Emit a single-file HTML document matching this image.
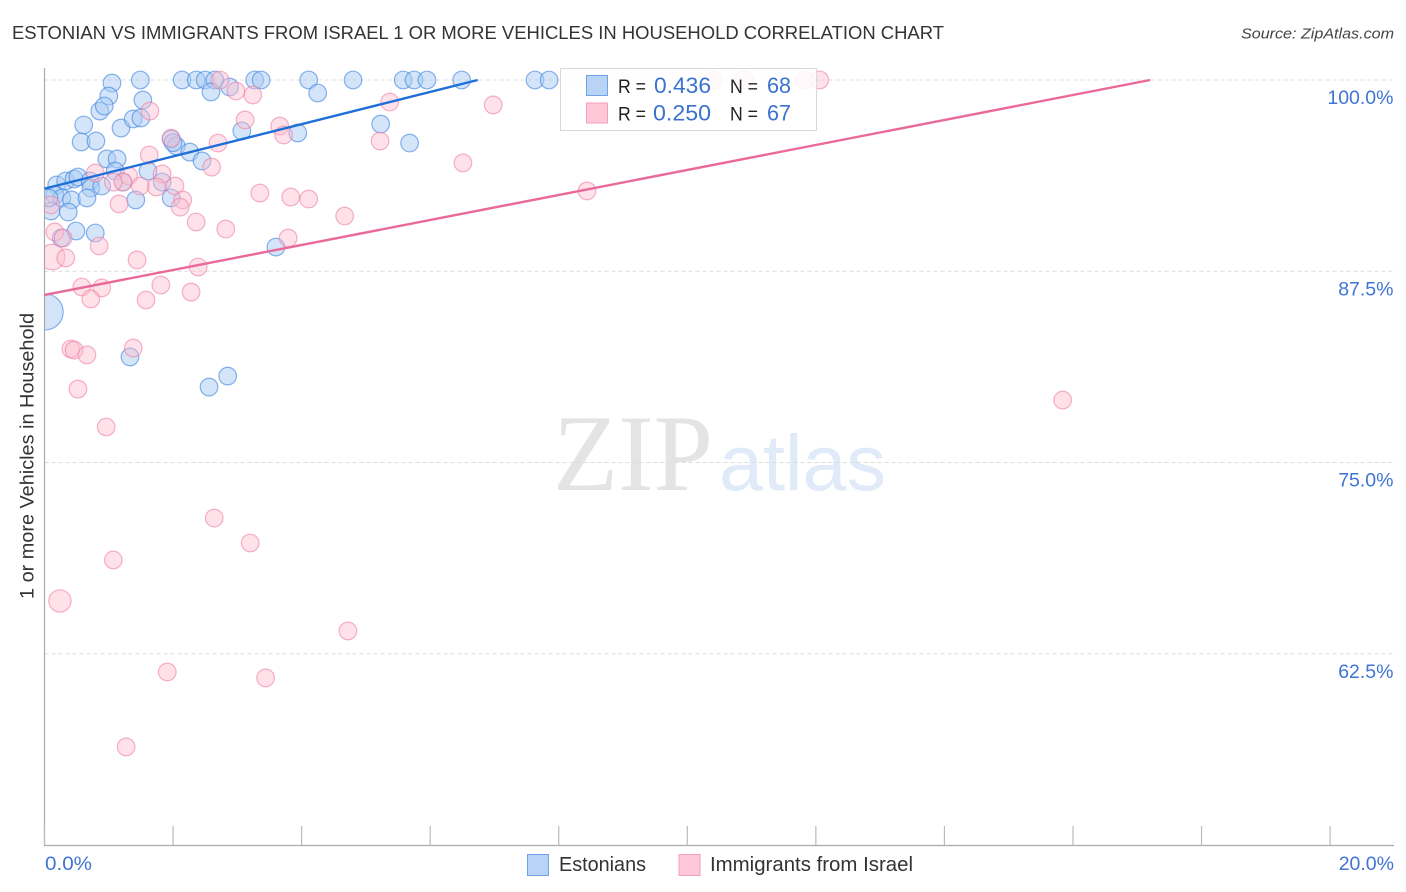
<!DOCTYPE html>
<html>
<head>
<meta charset="utf-8">
<title>Estonian vs Immigrants from Israel correlation chart</title>
<style>
html,body{margin:0;padding:0;background:#fff;}
svg{display:block;font-family:"Liberation Sans",Arial,sans-serif;}
</style>
</head>
<body>
<svg id="chart" width="1406" height="892" viewBox="0 0 1406 892" xmlns="http://www.w3.org/2000/svg">
  <defs>
    <clipPath id="plot-clip"><rect x="45" y="60" width="1349" height="785"/></clipPath>
  </defs>
  <rect x="0" y="0" width="1406" height="892" fill="#ffffff"/>
  <text x="12" y="39" font-size="18.5" fill="#333" textLength="932" lengthAdjust="spacingAndGlyphs">ESTONIAN VS IMMIGRANTS FROM ISRAEL 1 OR MORE VEHICLES IN HOUSEHOLD CORRELATION CHART</text>
  <text x="1241" y="38.5" font-size="15" font-style="italic" fill="#444" textLength="153" lengthAdjust="spacingAndGlyphs">Source: ZipAtlas.com</text>
  <text x="553" y="490" font-family="'Liberation Serif',serif" font-size="109" fill="#e4e4e4" textLength="160" lengthAdjust="spacingAndGlyphs">ZIP</text>
  <text x="719" y="490" font-size="79" fill="#e0eaf8" textLength="167" lengthAdjust="spacingAndGlyphs">atlas</text>
  <g id="grid"></g>
  <g id="blue-points" clip-path="url(#plot-clip)"></g>
  <g id="pink-points" clip-path="url(#plot-clip)"></g>
  <g id="axes"></g>
  <g id="trends"></g>
  <g>
    <rect x="560.5" y="68.5" width="256" height="62" fill="#ffffff" fill-opacity="0.86" stroke="#d8d8d8" stroke-width="1"/>
    <rect x="586.5" y="75.5" width="21" height="20" fill="#b8d3f6" stroke="#6ea3e6" stroke-width="1"/>
    <rect x="586.5" y="103" width="21" height="20" fill="#ffc8d9" stroke="#f3a0bc" stroke-width="1"/>
    <text x="618" y="93" font-size="19.5" fill="#222" textLength="28" lengthAdjust="spacingAndGlyphs">R =</text>
    <text x="654" y="93" font-size="22" fill="#3a72d0" textLength="57" lengthAdjust="spacingAndGlyphs">0.436</text>
    <text x="730" y="93" font-size="19.5" fill="#222" textLength="28" lengthAdjust="spacingAndGlyphs">N =</text>
    <text x="767" y="93" font-size="22" fill="#3a72d0" textLength="24" lengthAdjust="spacingAndGlyphs">68</text>
    <text x="618" y="120.5" font-size="19.5" fill="#222" textLength="28" lengthAdjust="spacingAndGlyphs">R =</text>
    <text x="653" y="120.5" font-size="22" fill="#3a72d0" textLength="58" lengthAdjust="spacingAndGlyphs">0.250</text>
    <text x="730" y="120.5" font-size="19.5" fill="#222" textLength="28" lengthAdjust="spacingAndGlyphs">N =</text>
    <text x="767" y="120.5" font-size="22" fill="#3a72d0" textLength="24" lengthAdjust="spacingAndGlyphs">67</text>
  </g>
  <text transform="translate(33.5,599) rotate(-90)" font-size="19.5" fill="#333" textLength="286" lengthAdjust="spacingAndGlyphs">1 or more Vehicles in Household</text>
  <rect x="527.5" y="854.5" width="21" height="21" fill="#b8d3f6" stroke="#6ea3e6" stroke-width="1"/>
  <text x="559" y="871" font-size="20" fill="#333" textLength="87" lengthAdjust="spacingAndGlyphs">Estonians</text>
  <rect x="679" y="854.5" width="21" height="21" fill="#ffc8d9" stroke="#f3a0bc" stroke-width="1"/>
  <text x="710" y="871" font-size="20" fill="#333" textLength="203" lengthAdjust="spacingAndGlyphs">Immigrants from Israel</text>
</svg>
<script>
const xTickValues = [0,2,4,6,8,10,12,14,16,18,20];
const xEndLabels = ["0.0%","20.0%"];
const yTickValues = [100,87.5,75,62.5];
const yTickLabels = ["100.0%","87.5%","75.0%","62.5%"];

const estoniansX = [1.05,1.49,2.14,2.36,2.50,2.65,3.27,3.37,4.11,4.80,5.58,5.75,5.95,6.49,7.63,7.85,1.00,0.86,0.93,1.53,0.61,0.57,0.80,1.19,1.38,1.50,1.97,2.05,2.26,2.45,0.97,1.13,1.10,1.61,3.07,2.59,2.88,0.19,0.33,0.46,0.52,0.71,0.72,0.89,0.16,0.27,0.42,0.66,0.10,0.37,0.49,0.79,0.26,1.42,1.83,1.97,3.60,0.01,1.33,2.56,2.85,3.94,5.23,5.68,4.25,2.00,1.22,0.07];
const estoniansY = [99.8,100,100,100,100,100,100,100,100,100,100,100,100,100,100,100,98.95,97.97,98.3,98.69,97.06,95.95,96.01,96.86,97.45,97.52,96.14,95.69,95.29,94.71,94.84,94.84,94.05,94.05,96.67,99.22,99.54,93.14,93.4,93.53,93.66,93.4,92.94,93.07,92.48,92.29,92.16,92.29,91.44,91.37,90.13,90.0,89.67,92.16,93.33,92.29,89.08,84.84,81.9,79.93,80.65,96.54,97.12,95.88,99.15,95.9,93.33,92.29];
const estoniansWeight = {57:4.2};

const immigrantsX = [2.73,2.98,3.24,1.64,3.12,3.66,3.72,2.70,1.63,0.79,1.31,1.83,2.60,2.03,1.22,1.07,1.49,1.74,2.15,2.11,1.16,2.36,2.82,3.35,3.83,3.79,0.85,0.16,0.29,0.12,0.33,1.44,2.39,0.58,0.89,0.72,1.81,1.58,2.28,1.38,0.41,0.46,0.66,0.52,0.96,2.64,3.20,1.07,0.24,4.72,1.91,3.44,1.27,15.84,8.44,6.51,4.67,4.11,5.22,5.37,6.98,10.41,10.88,11.84,12.06,0.10,1.97];
const immigrantsY = [100,99.28,99.02,97.97,97.39,96.99,96.41,95.88,95.1,93.92,93.73,93.86,94.31,93.07,93.33,93.33,93.07,93.01,92.16,91.69,91.9,90.72,90.26,92.61,92.35,89.67,89.15,90.07,89.67,88.43,88.37,88.24,87.78,86.47,86.41,85.69,86.6,85.62,86.14,82.48,82.42,82.35,82.03,79.8,77.32,71.37,69.74,68.63,65.95,63.99,61.31,60.92,56.41,79.08,92.75,94.58,91.11,92.22,96.01,98.56,98.37,100,100,100,100,91.83,96.2];
const immigrantsWeight = {29:2.1,48:1.6};

const estoniansTrendX = [0,6.74];
const estoniansTrendY = [92.9,100];
const immigrantsTrendX = [0,17.2];
const immigrantsTrendY = [85.95,100];

const NS = 'http://www.w3.org/2000/svg';
function xScale(v){ return 44.5 + v * 64.28; }
function yScale(v){ return 80 + (100 - v) * 15.3; }
function make(parent, tag, attrs){
  const el = document.createElementNS(NS, tag);
  for (const k in attrs) el.setAttribute(k, attrs[k]);
  parent.appendChild(el);
  return el;
}

const grid = document.getElementById('grid');
const axes = document.getElementById('axes');

yTickValues.forEach(function(v, i){
  const line = make(grid, 'line', {x1:44.5, x2:1394, y1:yScale(v), y2:yScale(v), stroke:'#dcdcdc', 'stroke-width':1, 'stroke-dasharray':'4 3'});
  
  
  const label = make(axes, 'text', {x:1393.5, y:yScale(v)+24, 'text-anchor':'end', 'font-size':19.5, fill:'#3f74d4'});
  label.textContent = yTickLabels[i];
  
  
});

const yAxis = make(axes, 'line', {x1:44.5, x2:44.5, y1:68, y2:845.5, stroke:'#aaaaaa', 'stroke-width':1.2});


const xAxis = make(axes, 'line', {x1:44, x2:1394, y1:845.5, y2:845.5, stroke:'#aaaaaa', 'stroke-width':1.2});



xTickValues.forEach(function(v){
  const tick = make(axes, 'line', {x1:xScale(v), x2:xScale(v), y1:826, y2:845, stroke:'#bbbbbb', 'stroke-width':1.2});
  
  
});

const xLeft = make(axes, 'text', {x:45, y:870, 'font-size':19.5, fill:'#3f74d4', textLength:47, lengthAdjust:'spacingAndGlyphs'});
xLeft.textContent = xEndLabels[0];


const xRight = make(axes, 'text', {x:1394, y:870, 'text-anchor':'end', 'font-size':19.5, fill:'#3f74d4'});
xRight.textContent = xEndLabels[1];



const bluePts = document.getElementById('blue-points');
estoniansX.forEach(function(v, i){
  const w = estoniansWeight[i] || 1;
  const c = make(bluePts, 'circle', {cx:xScale(v), cy:yScale(estoniansY[i]), r:8.8*Math.sqrt(w), fill:'#a9cbf3', 'fill-opacity':0.5, stroke:'#3b82e0', 'stroke-opacity':0.6, 'stroke-width':1.2});
  
  
});

const pinkPts = document.getElementById('pink-points');
immigrantsX.forEach(function(v, i){
  const w = immigrantsWeight[i] || 1;
  const c = make(pinkPts, 'circle', {cx:xScale(v), cy:yScale(immigrantsY[i]), r:8.8*Math.sqrt(w), fill:'#fdbccf', 'fill-opacity':0.45, stroke:'#ee7fa3', 'stroke-opacity':0.6, 'stroke-width':1.2});
  
  
});

const trends = document.getElementById('trends');
const blueTrend = make(trends, 'line', {x1:xScale(estoniansTrendX[0]), y1:yScale(estoniansTrendY[0]), x2:xScale(estoniansTrendX[1]), y2:yScale(estoniansTrendY[1]), stroke:'#1f6fd8', 'stroke-width':2.4});


const pinkTrend = make(trends, 'line', {x1:xScale(immigrantsTrendX[0]), y1:yScale(immigrantsTrendY[0]), x2:xScale(immigrantsTrendX[1]), y2:yScale(immigrantsTrendY[1]), stroke:'#e9699a', 'stroke-width':2.4});


</script>
</body>
</html>
